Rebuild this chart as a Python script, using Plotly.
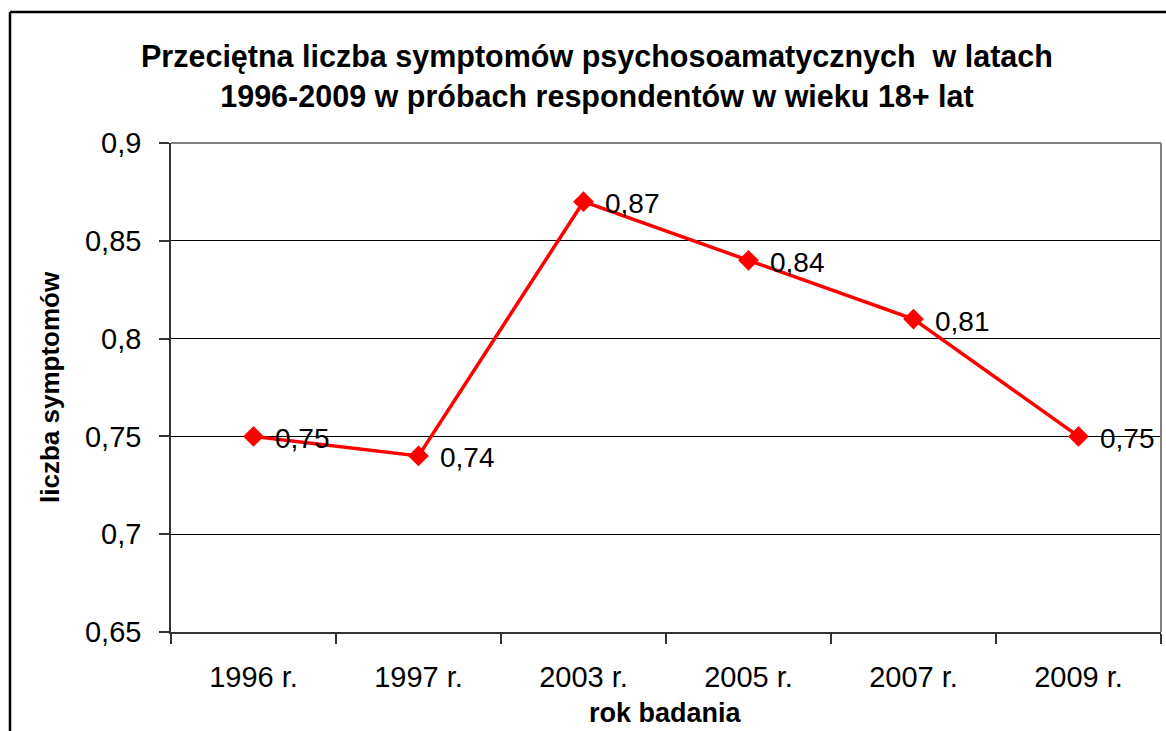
import plotly.graph_objects as go

years = ["1996 r.", "1997 r.", "2003 r.", "2005 r.", "2007 r.", "2009 r."]
values = [0.75, 0.74, 0.87, 0.84, 0.81, 0.75]
labels = ["0,75", "0,74", "0,87", "0,84", "0,81", "0,75"]
y_ticks = [0.65, 0.7, 0.75, 0.8, 0.85, 0.9]

title_lines = ["Przeciętna liczba symptomów psychosoamatycznych  w latach",
               "1996-2009 w próbach respondentów w wieku 18+ lat"]
x_title = "rok badania"
y_title = "liczba symptomów"

W, H = 1166, 731
L, R, T, B = 171, 1161, 143, 632
pw, ph = R - L, B - T

def px(x):
    return (x - L) / pw

def py(y):
    return (B - y) / ph

FONT = "Liberation Sans, Arial, sans-serif"

fig = go.Figure()
fig.add_trace(go.Scatter(
    x=years, y=values, mode="lines+markers",
    line=dict(color="#FF0000", width=3.5),
    marker=dict(symbol="diamond", size=16, color="#FF0000"),
    hoverinfo="skip", showlegend=False,
))

for xv, yv, t in zip(years, values, labels):
    fig.add_annotation(x=xv, y=yv, text=t, showarrow=False, xanchor="left",
                       yanchor="middle", xshift=19, yshift=-2,
                       font=dict(family=FONT, size=28, color="black"))

fig.add_annotation(xref="paper", yref="paper", x=px(597), y=py(77),
                   text="<br>".join("<b>" + s + "</b>" for s in title_lines),
                   showarrow=False, xanchor="center", yanchor="middle",
                   font=dict(family=FONT, size=30.5, color="black"), align="center")
fig.add_annotation(xref="paper", yref="paper", x=px(665), y=py(713), text="<b>" + x_title + "</b>",
                   showarrow=False, xanchor="center", yanchor="middle",
                   font=dict(family=FONT, size=27, color="black"))
fig.add_annotation(xref="paper", yref="paper", x=px(50), y=py(387), text="<b>" + y_title + "</b>",
                   showarrow=False, xanchor="center", yanchor="middle", textangle=-90,
                   font=dict(family=FONT, size=26, color="black"))

# plot area top/right border (grey)
fig.add_shape(type="line", xref="paper", yref="paper", x0=0, x1=1, y0=1, y1=1,
              line=dict(color="#808080", width=2), layer="above")
fig.add_shape(type="line", xref="paper", yref="paper", x0=1, x1=1, y0=0, y1=1,
              line=dict(color="#808080", width=2), layer="above")
# outer chart frame
fig.add_shape(type="line", xref="paper", yref="paper", x0=px(10), x1=px(1175), y0=py(12), y1=py(12),
              line=dict(color="black", width=2.5))
fig.add_shape(type="line", xref="paper", yref="paper", x0=px(10), x1=px(10), y0=py(12), y1=py(740),
              line=dict(color="black", width=2.5))

fig.update_xaxes(
    type="category", range=[-0.5, 5.5], tickson="boundaries",
    ticks="outside", ticklen=10, tickcolor="#333333", tickwidth=1.5,
    showline=True, linecolor="#333333", linewidth=1.5, showgrid=False,
    tickfont=dict(family=FONT, size=29, color="black"), zeroline=False,
    ticklabelstandoff=18,
)
fig.update_yaxes(
    range=[0.65, 0.9], tickvals=y_ticks, ticktext=[f"{v:g}".replace(".", ",") for v in y_ticks],
    ticks="outside", ticklen=10, tickcolor="#333333", tickwidth=1.5,
    showline=True, linecolor="#333333", linewidth=1.5,
    showgrid=True, gridcolor="black", gridwidth=1, zeroline=False,
    tickfont=dict(family=FONT, size=29, color="black"), ticklabelstandoff=12,
)

fig.update_layout(
    width=W, height=H, autosize=False,
    margin=dict(l=L, r=W - R, t=T, b=H - B, pad=0),
    paper_bgcolor="white", plot_bgcolor="white",
    separators=",.",
)

fig.write_html("out.html", config={"displayModeBar": False},
               post_script="document.body.style.margin='0';document.body.style.overflow='hidden';")
